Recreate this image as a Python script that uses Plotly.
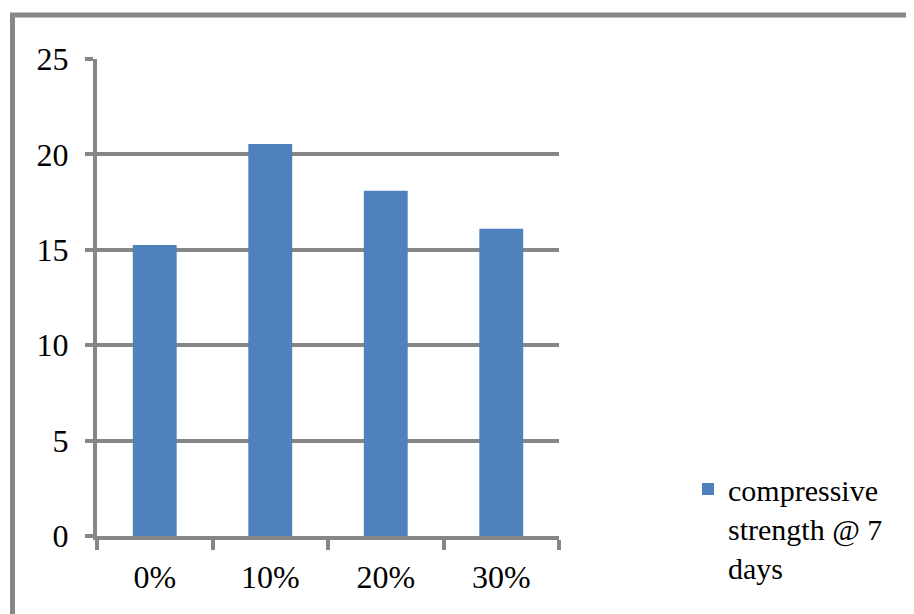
import plotly.graph_objects as go

categories = ["0%", "10%", "20%", "30%"]
strength_7d = [15.25, 20.55, 18.1, 16.1]
series_name = "compressive<br>strength @ 7<br>days"
y_ticks = [0, 5, 10, 15, 20, 25]

GRAY = "#868686"
FONT = "Liberation Serif, Times New Roman, serif"

fig = go.Figure()
fig.add_trace(go.Bar(
    x=categories, y=strength_7d, name=series_name,
    marker=dict(color="#4F81BD", line=dict(width=0)),
    showlegend=True,
))

OFF = 8  # page body margin
L, R, T, B = 97 - OFF, 559 - OFF, 59 - OFF, 536 - OFF
W, H = 914 - OFF, 614 - OFF
pw, ph = R - L, B - T

def px_x(p):
    return (p - OFF - L) / pw

def px_y(p):
    return (B - (p - OFF)) / ph

fig.update_layout(
    width=W, height=H,
    margin=dict(l=L, r=W - R, t=T, b=H - B, autoexpand=False),
    paper_bgcolor="white", plot_bgcolor="white",
    font=dict(family=FONT, size=32, color="black"),
    bargap=0.62,
    showlegend=True,
    legend=dict(
        x=px_x(688), y=px_y(463), xanchor="left", yanchor="top",
        font=dict(family=FONT, size=30, color="black"),
        bgcolor="rgba(0,0,0,0)", itemwidth=30, tracegroupgap=0, valign="top",
    ),
    xaxis=dict(
        type="category", showline=True, linecolor=GRAY, linewidth=4,
        ticks="outside", tickson="boundaries", ticklen=10, tickwidth=4, tickcolor=GRAY,
        showgrid=False, ticklabelstandoff=10,
        tickfont=dict(family=FONT, size=32, color="black"),
    ),
    yaxis=dict(
        range=[0, 25], tickvals=y_ticks, showline=True, linecolor=GRAY, linewidth=4,
        ticks="outside", ticklen=8, tickwidth=4, tickcolor=GRAY,
        showgrid=True, gridcolor=GRAY, gridwidth=4, zeroline=False,
        ticklabelstandoff=10,
        tickfont=dict(family=FONT, size=32, color="black"),
    ),
    shapes=[dict(
        type="rect", xref="paper", yref="paper",
        x0=px_x(12.5), x1=px_x(1200), y0=px_y(15), y1=px_y(900),
        line=dict(color=GRAY, width=5), fillcolor="rgba(0,0,0,0)", layer="below",
    )],
)

fig.write_html("out.html")
